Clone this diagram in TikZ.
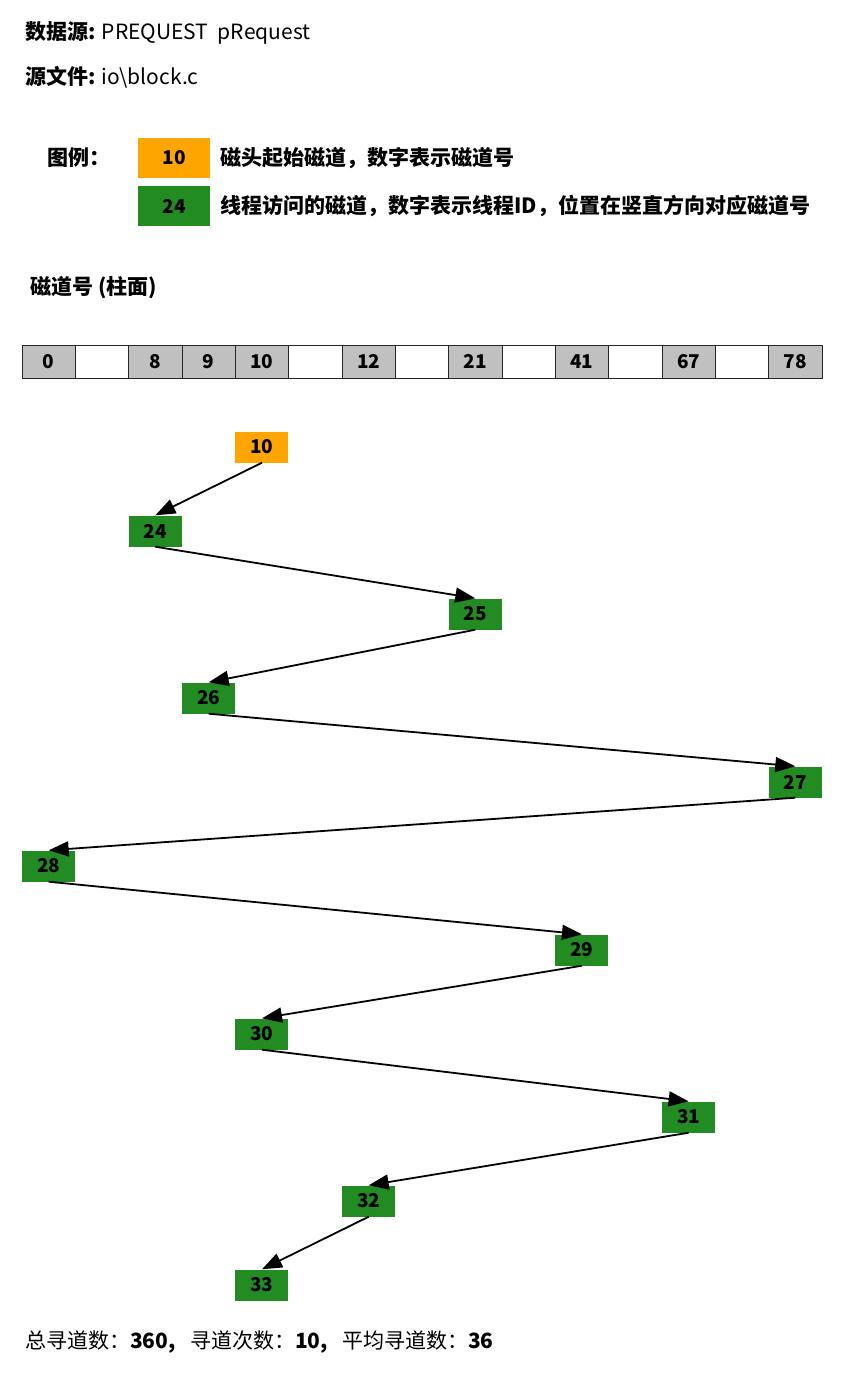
\documentclass[tikz,border=0pt]{standalone}
\usepackage{fontspec}
\setmainfont{Noto Sans CJK SC}
\usetikzlibrary{arrows.meta, positioning}
\definecolor{headorange}{HTML}{FFA500}
\definecolor{visitgreen}{HTML}{228B22}
\definecolor{cellgray}{HTML}{C0C0C0}
\tikzset{
  cell/.style={rectangle, draw=black!85, line width=0.8pt, minimum width=53.33pt, minimum height=33pt, inner sep=0pt, font=\bfseries\fontsize{19}{19}\selectfont},
  usedcell/.style={cell, fill=cellgray},
  startbox/.style={rectangle, fill=headorange, minimum width=53pt, minimum height=31pt, inner sep=0pt, font=\bfseries\fontsize{19}{19}\selectfont},
  visitbox/.style={startbox, fill=visitgreen},
  keybox/.style={startbox, minimum width=72pt, minimum height=40pt},
  caption/.style={anchor=west, inner sep=0pt, font=\fontsize{21}{21}\selectfont},
  boldcaption/.style={caption, font=\bfseries\fontsize{21}{21}\selectfont},
  seek/.style={-{Triangle[length=20pt, width=15pt]}, line width=1.8pt},
}

\begin{document}
\begin{tikzpicture}[x=1pt, y=-1pt]
\useasboundingbox (0,0) rectangle (851,1373);
% header
\node[caption] (src) at (25,33) {\textbf{数据源:} PREQUEST\ \ pRequest};
\node[caption] (file) at (25,77) {\textbf{源文件:} io\textbackslash block.c};
% legend
\node[boldcaption] (key) at (47,158) {图例：};
\node[keybox] (key10) at (174,158) {10};
\node[keybox, fill=visitgreen] (key24) at (174,206) {24};
\node[boldcaption, right=10pt of key10] (keytxt1) {磁头起始磁道，数字表示磁道号};
\node[boldcaption, right=10pt of key24] (keytxt2) {线程访问的磁道，数字表示线程ID，位置在竖直方向对应磁道号};
% track bar
\node[boldcaption] (axis) at (30,288) {磁道号 (柱面)};
\foreach \lab/\sty [count=\i from 0] in {0/usedcell, /cell, 8/usedcell, 9/usedcell, 10/usedcell, /cell, 12/usedcell, /cell, 21/usedcell, /cell, 41/usedcell, /cell, 67/usedcell, /cell, 78/usedcell}
  \node[\sty] (c\i) at ({48.67+53.33*\i},361.5) {\lab};
% seek order
\node[startbox] (t10) at (c4 |- 0,447) {10};
\node[visitbox] (t24) at (c2 |- 0,531) {24};
\node[visitbox] (t25) at (c8 |- 0,614) {25};
\node[visitbox] (t26) at (c3 |- 0,698) {26};
\node[visitbox] (t27) at (c14 |- 0,782) {27};
\node[visitbox] (t28) at (c0 |- 0,866) {28};
\node[visitbox] (t29) at (c10 |- 0,950) {29};
\node[visitbox] (t30) at (c4 |- 0,1034) {30};
\node[visitbox] (t31) at (c12 |- 0,1117) {31};
\node[visitbox] (t32) at (c6 |- 0,1201) {32};
\node[visitbox] (t33) at (c4 |- 0,1285) {33};
\foreach \a/\b in {t10/t24, t24/t25, t25/t26, t26/t27, t27/t28, t28/t29, t29/t30, t30/t31, t31/t32, t32/t33}
  \draw[seek] (\a.south) -- (\b.north);
% summary
\node[caption] (sum) at (25,1342) {总寻道数：\textbf{360,}\ \ \ 寻道次数：\textbf{10,}\ \ \ 平均寻道数：\textbf{36}};
\end{tikzpicture}
\end{document}
